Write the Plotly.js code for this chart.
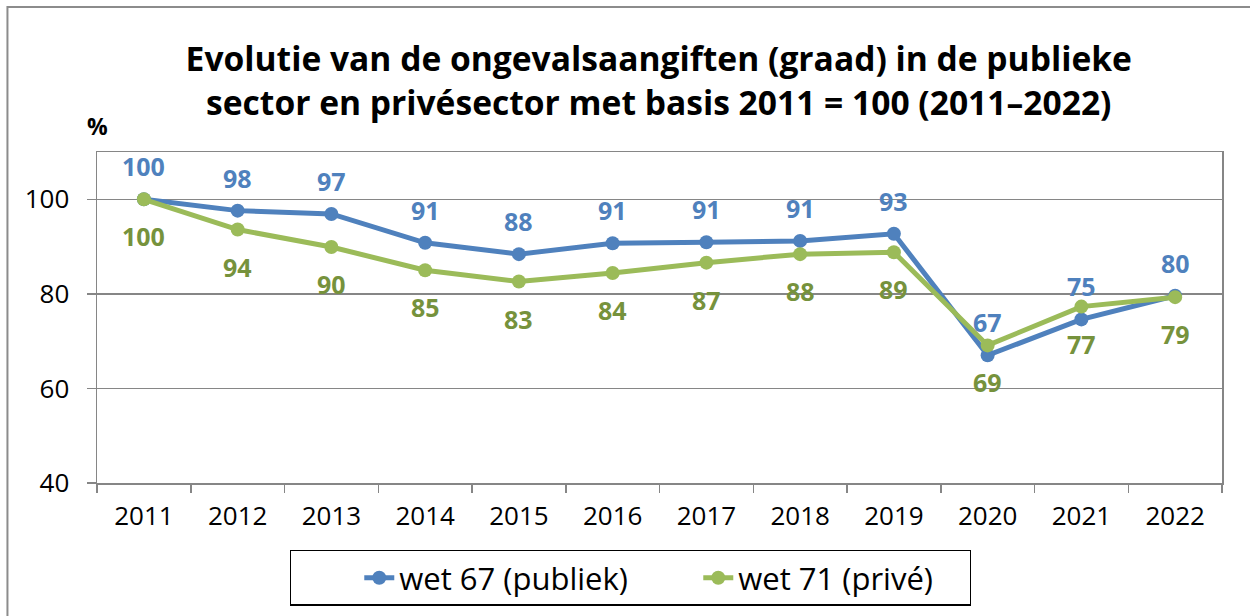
<!DOCTYPE html>
<html>
<head>
<meta charset="utf-8">
<script src="https://cdn.plot.ly/plotly-3.0.1.min.js"></script>
<style>
html,body{margin:0;padding:0;background:#fff;}
#chart{width:1250px;height:616px;}
</style>
</head>
<body>
<div id="chart"></div>
<script>
const years = ['2011','2012','2013','2014','2015','2016','2017','2018','2019','2020','2021','2022'];
const publiek = [100, 97.6, 96.9, 90.8, 88.4, 90.7, 90.9, 91.2, 92.7, 67.0, 74.6, 79.6];
const prive = [100, 93.6, 89.9, 85.0, 82.6, 84.4, 86.6, 88.4, 88.8, 69.1, 77.3, 79.3];
const seriesNames = ['wet 67 (publiek)', 'wet 71 (privé)'];
const titleText = 'Evolutie van de ongevalsaangiften (graad) in de publieke<br>sector en privésector met basis 2011 = 100 (2011\u20132022)';

const blue = '#4F81BD', green = '#9BBB59';
const blueLbl = '#4F81BD', greenLbl = '#76923C';
const FONT = '"Open Sans", sans-serif';

const traces = [
  {x: years, y: publiek, name: seriesNames[0], type: 'scatter', mode: 'lines+markers',
   line: {color: blue, width: 5}, marker: {color: blue, size: 14}},
  {x: years, y: prive, name: seriesNames[1], type: 'scatter', mode: 'lines+markers',
   line: {color: green, width: 5}, marker: {color: green, size: 14}}
];

const annotations = [];
years.forEach((yr, i) => {
  annotations.push({x: i, y: publiek[i], xref: 'x', yref: 'y', text: String(Math.round(publiek[i])),
    showarrow: false, yshift: 33, font: {family: FONT, size: 25, color: blueLbl, weight: 'bold'}});
  annotations.push({x: i, y: prive[i], xref: 'x', yref: 'y', text: String(Math.round(prive[i])),
    showarrow: false, yshift: -37, font: {family: FONT, size: 25, color: greenLbl, weight: 'bold'}});
});
annotations.push({x: 0, y: 1.078, xref: 'paper', yref: 'paper', text: '%', showarrow: false,
  xanchor: 'center', yanchor: 'middle', font: {family: FONT, size: 23, color: '#000', weight: 'bold'}});

const layout = {
  width: 1250, height: 616,
  margin: {l: 97, r: 28, t: 152, b: 132},
  paper_bgcolor: '#fff', plot_bgcolor: '#fff',
  font: {family: FONT, color: '#000'},
  title: {text: titleText, x: 0.527, xanchor: 'center', y: 0.885, yanchor: 'middle', yref: 'container',
    font: {family: FONT, size: 33.6, color: '#000', weight: 'bold'}},
  showlegend: true,
  legend: {orientation: 'h', x: 0.4742, xanchor: 'center', y: -0.198, yanchor: 'top',
    bordercolor: '#000', borderwidth: 1.3, font: {family: FONT, size: 31, color: '#000'},
    entrywidth: 226, indentation: 68},
  xaxis: {type: 'category', range: [-0.5, 11.5], showgrid: false, showline: true, linecolor: '#868686', linewidth: 1.5, mirror: true,
    ticks: 'outside', tickson: 'boundaries', ticklen: 8, tickcolor: '#868686', tickwidth: 1.5, tickangle: 0,
    tickfont: {family: FONT, size: 26, color: '#000'}, ticklabelstandoff: 9, zeroline: false, fixedrange: true},
  yaxis: {range: [40, 110], tickvals: [40, 60, 80, 100], showgrid: true, gridcolor: '#868686', gridwidth: 1.5,
    showline: true, linecolor: '#868686', linewidth: 1.5, mirror: true,
    ticks: 'outside', ticklen: 9, tickcolor: '#868686', tickwidth: 1.5,
    tickfont: {family: FONT, size: 26, color: '#000'}, ticklabelstandoff: 12, zeroline: false, fixedrange: true},
  annotations: annotations,
  shapes: [{type: 'rect', xref: 'paper', yref: 'paper', x0: -0.0796, x1: 1.2, y0: -0.6, y1: 1.438,
    line: {color: '#8c8c8c', width: 2}, fillcolor: 'rgba(0,0,0,0)', layer: 'below'}]
};

Plotly.newPlot('chart', traces, layout, {displayModeBar: false, staticPlot: true});
</script>
</body>
</html>
